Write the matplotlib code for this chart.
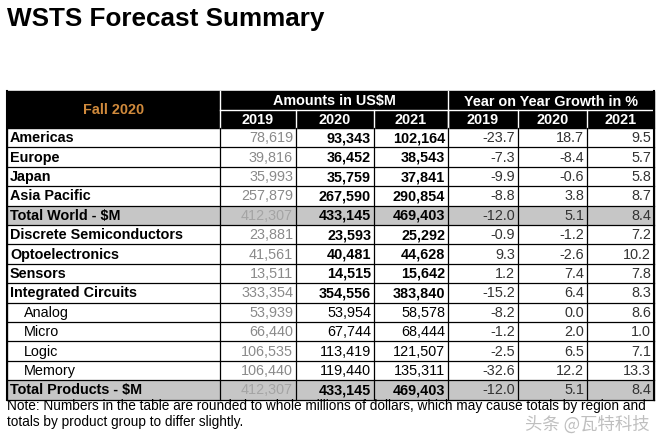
import matplotlib.pyplot as plt
from matplotlib.patches import Rectangle

plt.rcParams['font.family'] = ['Liberation Sans', 'DejaVu Sans']

title = 'WSTS Forecast Summary'
season = 'Fall 2020'
years = ['2019', '2020', '2021']

labels = ['Americas', 'Europe', 'Japan', 'Asia Pacific', 'Total World - $M',
          'Discrete Semiconductors', 'Optoelectronics', 'Sensors',
          'Integrated Circuits', 'Analog', 'Micro', 'Logic', 'Memory',
          'Total Products - $M']
amt_2019 = [78619, 39816, 35993, 257879, 412307, 23881, 41561, 13511,
            333354, 53939, 66440, 106535, 106440, 412307]
amt_2020 = [93343, 36452, 35759, 267590, 433145, 23593, 40481, 14515,
            354556, 53954, 67744, 113419, 119440, 433145]
amt_2021 = [102164, 38543, 37841, 290854, 469403, 25292, 44628, 15642,
            383840, 58578, 68444, 121507, 135311, 469403]
gr_2019 = [-23.7, -7.3, -9.9, -8.8, -12.0, -0.9, 9.3, 1.2, -15.2,
           -8.2, -1.2, -2.5, -32.6, -12.0]
gr_2020 = [18.7, -8.4, -0.6, 3.8, 5.1, -1.2, -2.6, 7.4, 6.4,
           0.0, 2.0, 6.5, 12.2, 5.1]
gr_2021 = [9.5, 5.7, 5.8, 8.7, 8.4, 7.2, 10.2, 7.8, 8.3,
           8.6, 1.0, 7.1, 13.3, 8.4]
sub_rows = ['Analog', 'Micro', 'Logic', 'Memory']
total_rows = ['Total World - $M', 'Total Products - $M']

note1 = 'Note: Numbers in the table are rounded to whole millions of dollars, which may cause totals by region and'
note2 = 'totals by product group to differ slightly.'

# layout in pixels
W, H = 662, 437
cols = [7, 220, 296, 374, 448, 518, 587, 654]
top, mid, hbot = 91, 110, 128
rh = 19.4
fs = 10.4

fig = plt.figure(figsize=(W / 100, H / 100), dpi=100)
ax = fig.add_axes([0, 0, 1, 1])
ax.set_xlim(0, W)
ax.set_ylim(H, 0)
ax.axis('off')

ax.text(7, 19, title, fontsize=18.8, fontweight='bold', va='center', ha='left')

# header
ax.add_patch(Rectangle((cols[0], top), cols[-1] - cols[0], hbot - top, color='black'))
ax.plot([cols[1], cols[1]], [top, hbot], color='white', lw=1)
ax.plot([cols[4], cols[4]], [top, hbot], color='white', lw=1)
ax.plot([cols[1], cols[-1]], [mid, mid], color='white', lw=1)
for c in cols[2:-1]:
    ax.plot([c, c], [mid, hbot], color='white', lw=1)
ax.text((cols[0] + cols[1]) / 2, (top + hbot) / 2, season, color='#d08a3c',
        fontsize=fs, fontweight='bold', ha='center', va='center')
ax.text((cols[1] + cols[4]) / 2, (top + mid) / 2 + 1, 'Amounts in US$M', color='white',
        fontsize=fs, fontweight='bold', ha='center', va='center')
ax.text((cols[4] + cols[-1]) / 2, (top + mid) / 2 + 1, 'Year on Year Growth in %', color='white',
        fontsize=fs, fontweight='bold', ha='center', va='center')
for k in range(6):
    ax.text((cols[k + 1] + cols[k + 2]) / 2, (mid + hbot) / 2 + 1, years[k % 3], color='white',
            fontsize=fs, fontweight='bold', ha='center', va='center')

# body
for i, lab in enumerate(labels):
    y0 = hbot + i * rh
    yc = y0 + rh / 2 + 0.5
    is_sub = lab in sub_rows
    is_tot = lab in total_rows
    if is_tot:
        ax.add_patch(Rectangle((cols[0], y0), cols[-1] - cols[0], rh, color='#c6c6c6', lw=0))
    wt = 'normal' if is_sub else 'bold'
    ax.text(cols[0] + (17 if is_sub else 3), yc, lab, fontsize=fs, fontweight=wt,
            ha='left', va='center')
    ax.text(cols[2] - 3, yc, f'{amt_2019[i]:,}', fontsize=fs,
            color='#a4a4a4' if is_tot else '#8a8a8a', ha='right', va='center')
    ax.text(cols[3] - 3, yc, f'{amt_2020[i]:,}', fontsize=fs, fontweight=wt,
            ha='right', va='center')
    ax.text(cols[4] - 3, yc, f'{amt_2021[i]:,}', fontsize=fs, fontweight=wt,
            ha='right', va='center')
    for k, g in enumerate([gr_2019, gr_2020, gr_2021]):
        ax.text(cols[5 + k] - 3, yc, f'{g[i]:.1f}', fontsize=fs, color='#333333',
                ha='right', va='center')
    ax.plot([cols[0], cols[-1]], [y0 + rh, y0 + rh], color='black', lw=0.9)

bot = hbot + len(labels) * rh
for c in cols:
    ax.plot([c, c], [hbot, bot], color='black', lw=0.9)
ax.plot([cols[0], cols[0]], [top, bot], color='black', lw=1.5)
ax.plot([cols[-1], cols[-1]], [top, bot], color='black', lw=1.5)

ax.text(7, 406, note1, fontsize=9.8, ha='left', va='center')
ax.text(7, 422, note2, fontsize=9.8, ha='left', va='center')

# watermark
ax.text(650, 425, '头条 @瓦特科技', fontsize=12.5, color='#b0b0b0', alpha=0.8,
        family=['Noto Sans CJK SC', 'DejaVu Sans'], ha='right', va='center')

fig.savefig('out.png', dpi=100)
